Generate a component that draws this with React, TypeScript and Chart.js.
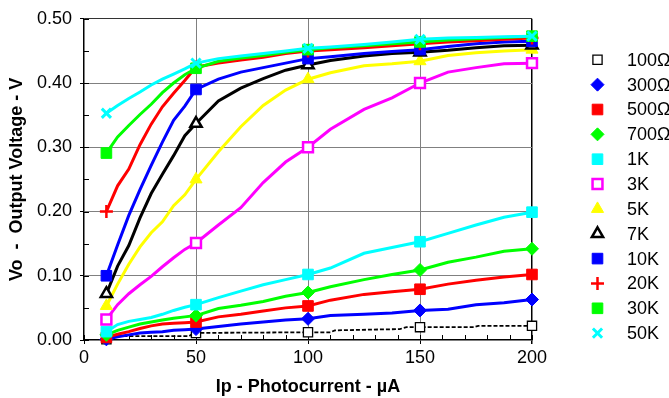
import React, { useEffect, useRef } from 'react';
import { Chart, registerables } from 'chart.js';
import { drawPoint } from 'chart.js/helpers';

Chart.register(...registerables);

// ---------- data ----------
const SERIES_NAMES = ['100Ω', '300Ω', '500Ω', '700Ω', '1K', '3K', '5K', '7K', '10K', '20K', '30K', '50K'];
const MARKER_X = [10, 50, 100, 150, 200];
const X_TICKS = [0, 50, 100, 150, 200];
const Y_TICKS = [0, 0.1, 0.2, 0.3, 0.4, 0.5];

const PHOTOCURRENT = [10, 15, 20, 25, 30, 35, 40, 45, 50, 60, 70, 80, 90, 100, 110, 125, 137.5, 150, 162.5, 175, 187.5, 200];

const X_100 = [10, 12, 47, 49, 50, 100, 110, 112, 141, 144, 150, 174, 176, 200];
const V_100 = [0.001, 0.006, 0.006, 0.011, 0.011, 0.012, 0.012, 0.015, 0.017, 0.020, 0.020, 0.020, 0.022, 0.022];

const V_300 = [0.001, 0.005, 0.008, 0.011, 0.012, 0.013, 0.015, 0.016, 0.017, 0.021, 0.025, 0.028, 0.031, 0.033, 0.038, 0.040, 0.042, 0.046, 0.048, 0.055, 0.058, 0.063];
const V_500 = [0.004, 0.009, 0.013, 0.018, 0.022, 0.025, 0.026, 0.027, 0.028, 0.036, 0.040, 0.045, 0.050, 0.053, 0.062, 0.071, 0.075, 0.079, 0.087, 0.093, 0.098, 0.102];
const V_700 = [0.008, 0.015, 0.020, 0.025, 0.028, 0.031, 0.034, 0.036, 0.038, 0.049, 0.054, 0.060, 0.068, 0.074, 0.083, 0.094, 0.102, 0.109, 0.121, 0.129, 0.138, 0.142];
const V_1K = [0.013, 0.024, 0.029, 0.032, 0.035, 0.040, 0.046, 0.051, 0.055, 0.066, 0.076, 0.086, 0.094, 0.102, 0.112, 0.135, 0.144, 0.153, 0.166, 0.179, 0.191, 0.199];
const V_3K = [0.032, 0.055, 0.072, 0.086, 0.099, 0.114, 0.128, 0.141, 0.151, 0.179, 0.206, 0.245, 0.277, 0.300, 0.328, 0.359, 0.377, 0.400, 0.417, 0.424, 0.430, 0.431];
const V_5K = [0.053, 0.087, 0.118, 0.145, 0.167, 0.184, 0.209, 0.226, 0.250, 0.293, 0.332, 0.365, 0.389, 0.406, 0.416, 0.427, 0.430, 0.434, 0.443, 0.447, 0.450, 0.452];
const V_7K = [0.072, 0.115, 0.147, 0.190, 0.228, 0.258, 0.287, 0.318, 0.337, 0.372, 0.392, 0.407, 0.420, 0.428, 0.435, 0.442, 0.446, 0.448, 0.451, 0.455, 0.458, 0.459];
const V_10K = [0.100, 0.148, 0.194, 0.234, 0.272, 0.308, 0.342, 0.364, 0.390, 0.406, 0.417, 0.424, 0.431, 0.438, 0.441, 0.446, 0.449, 0.452, 0.457, 0.461, 0.464, 0.465];
const V_20K = [0.200, 0.240, 0.266, 0.304, 0.336, 0.363, 0.384, 0.404, 0.425, 0.431, 0.436, 0.440, 0.446, 0.450, 0.452, 0.455, 0.458, 0.461, 0.464, 0.466, 0.468, 0.470];
const V_30K = [0.291, 0.316, 0.334, 0.351, 0.367, 0.385, 0.400, 0.413, 0.423, 0.434, 0.439, 0.443, 0.448, 0.452, 0.455, 0.458, 0.461, 0.464, 0.467, 0.469, 0.471, 0.473];
const V_50K = [0.353, 0.365, 0.376, 0.386, 0.397, 0.406, 0.414, 0.422, 0.431, 0.438, 0.442, 0.446, 0.450, 0.454, 0.456, 0.460, 0.464, 0.468, 0.470, 0.471, 0.472, 0.473];

const SERIES_X = [X_100, PHOTOCURRENT, PHOTOCURRENT, PHOTOCURRENT, PHOTOCURRENT, PHOTOCURRENT, PHOTOCURRENT, PHOTOCURRENT, PHOTOCURRENT, PHOTOCURRENT, PHOTOCURRENT, PHOTOCURRENT];
const SERIES_Y = [V_100, V_300, V_500, V_700, V_1K, V_3K, V_5K, V_7K, V_10K, V_20K, V_30K, V_50K];

// ---------- styles ----------
type Sty = { color: string; point: string; fill: string; pbw: number; r: number; lw: number; dash?: number[] };
const STYLES: Sty[] = [
  { color: '#000000', point: 'rect', fill: '#ffffff', pbw: 1.3, r: 6.5, lw: 1.8, dash: [4, 2] },
  { color: '#0000ff', point: 'rectRot', fill: '#0000ff', pbw: 1, r: 6.5, lw: 3 },
  { color: '#ff0000', point: 'rect', fill: '#ff0000', pbw: 1, r: 7.5, lw: 3 },
  { color: '#00ff00', point: 'rectRot', fill: '#00ff00', pbw: 1, r: 6.5, lw: 3 },
  { color: '#00ffff', point: 'rect', fill: '#00ffff', pbw: 1, r: 7.5, lw: 3 },
  { color: '#ff00ff', point: 'rect', fill: '#ffffff', pbw: 2.5, r: 7, lw: 3 },
  { color: '#ffff00', point: 'triangle', fill: '#ffff00', pbw: 1, r: 7, lw: 3 },
  { color: '#000000', point: 'triangle', fill: '#ffffff', pbw: 2.5, r: 6.5, lw: 3 },
  { color: '#0000ff', point: 'rect', fill: '#0000ff', pbw: 1, r: 7.5, lw: 3 },
  { color: '#ff0000', point: 'cross', fill: '#ff0000', pbw: 2.5, r: 6.5, lw: 3 },
  { color: '#00ff00', point: 'rect', fill: '#00ff00', pbw: 1, r: 7.5, lw: 3 },
  { color: '#00ffff', point: 'crossRot', fill: '#00ffff', pbw: 3, r: 6.5, lw: 3 },
];

const FONT = "'Liberation Sans', Arial, sans-serif";
const FONT_SIZE = 18;

const isMarker = (x: number) => MARKER_X.includes(x);
const near = (a: number, b: number) => Math.abs(a - b) < 1e-6;

const decorPlugin = {
  id: 'decor',
  beforeDatasetsDraw(chart: any) {
    const { ctx, chartArea, scales } = chart;
    const x = scales.x;
    const y = scales.y;
    ctx.save();
    ctx.strokeStyle = '#000';
    ctx.lineWidth = 1;
    ctx.beginPath();
    for (let k = 0; k <= 20; k++) {
      const px = Math.round(x.getPixelForValue(k * 10)) + 0.5;
      ctx.moveTo(px, chartArea.bottom);
      ctx.lineTo(px, chartArea.bottom - 5);
    }
    for (let k = 0; k <= 10; k++) {
      const py = Math.round(y.getPixelForValue(k * 0.05)) + 0.5;
      ctx.moveTo(chartArea.left, py);
      ctx.lineTo(chartArea.left + 5, py);
    }
    ctx.stroke();
    ctx.restore();
  },
  afterDraw(chart: any) {
    const { ctx, chartArea } = chart;
    const markerX = chartArea.right + 65.5;
    const textX = chartArea.right + 95;
    const y0 = chartArea.top + 41;
    const step = 24.85;
    ctx.save();
    ctx.font = `${FONT_SIZE}px ${FONT}`;
    ctx.textBaseline = 'middle';
    ctx.textAlign = 'left';
    SERIES_NAMES.forEach((name, i) => {
      const s = STYLES[i];
      const yy = y0 + i * step;
      ctx.fillStyle = s.fill;
      ctx.strokeStyle = s.color;
      ctx.lineWidth = s.pbw;
      drawPoint(ctx, { pointStyle: s.point as any, radius: s.r, borderWidth: s.pbw, rotation: 0 }, markerX, yy);
      ctx.fillStyle = '#000';
      ctx.fillText(name, textX, yy + 1);
    });
    ctx.restore();
  },
};

export default function App() {
  const ref = useRef<HTMLCanvasElement>(null);
  useEffect(() => {
    if (!ref.current) return;
    const datasets = SERIES_NAMES.map((name, i) => {
      const s = STYLES[i];
      const xs = SERIES_X[i];
      const ys = SERIES_Y[i];
      return {
        label: name,
        data: xs.map((x, j) => ({ x, y: ys[j] })),
        borderColor: s.color,
        backgroundColor: s.fill,
        borderWidth: s.lw,
        borderDash: s.dash || [],
        pointStyle: s.point,
        pointBackgroundColor: s.fill,
        pointBorderColor: s.color,
        pointBorderWidth: s.pbw,
        pointRadius: (c: any) => (c.raw && isMarker(c.raw.x) ? s.r : 0),
        pointHoverRadius: (c: any) => (c.raw && isMarker(c.raw.x) ? s.r : 0),
        tension: 0,
        fill: false,
        clip: false as any,
        order: SERIES_NAMES.length - 1 - i,
      };
    });
    const chart = new Chart(ref.current, {
      type: 'line',
      data: { datasets: datasets as any },
      options: {
        animation: false,
        responsive: false,
        maintainAspectRatio: false,
        layout: { padding: { top: 16, right: 137, left: 0, bottom: 0 } },
        plugins: { legend: { display: false }, tooltip: { enabled: false } },
        scales: {
          x: {
            type: 'linear',
            min: 0,
            max: 200,
            afterFit: (s: any) => { s.height = 58; },
            afterBuildTicks: (s: any) => { s.ticks = X_TICKS.map((v) => ({ value: v })); },
            ticks: { color: '#000', font: { family: FONT, size: FONT_SIZE }, padding: 3, maxRotation: 0 },
            grid: {
              color: (c: any) => (near(c.tick.value, 200) ? '#000' : near(c.tick.value, 0) ? 'rgba(0,0,0,0)' : '#808080'),
              lineWidth: (c: any) => (near(c.tick.value, 200) ? 1.5 : 1),
              tickColor: '#000',
              tickLength: 4,
            },
            border: { display: true, color: '#000', width: 1.5 },
            title: {
              display: true,
              text: 'Ip - Photocurrent - µA',
              color: '#000',
              font: { family: FONT, size: FONT_SIZE, weight: 'bold' },
              padding: { top: 0, bottom: 0.5 },
            },
          },
          y: {
            type: 'linear',
            min: 0,
            max: 0.5,
            afterFit: (s: any) => { s.width = 84; },
            afterBuildTicks: (s: any) => { s.ticks = Y_TICKS.map((v) => ({ value: v })); },
            ticks: {
              color: '#000',
              font: { family: FONT, size: FONT_SIZE },
              padding: 8,
              callback: (v: any) => Number(v).toFixed(2),
            },
            grid: {
              color: (c: any) => (near(c.tick.value, 0.5) ? '#333' : near(c.tick.value, 0) ? 'rgba(0,0,0,0)' : '#808080'),
              lineWidth: 1,
              tickColor: '#000',
              tickLength: 4,
            },
            border: { display: true, color: '#000', width: 1.5 },
            title: {
              display: true,
              text: 'Vo  -  Output Voltage - V',
              color: '#000',
              font: { family: FONT, size: FONT_SIZE, weight: 'bold' },
              padding: { top: 6, bottom: 0 },
            },
          },
        },
      },
      plugins: [decorPlugin],
    });
    return () => chart.destroy();
  }, []);
  return (
    <div style={{ position: 'absolute', left: 0, top: 0, width: 669, height: 398, background: '#fff' }}>
      <canvas ref={ref} width={669} height={398} />
    </div>
  );
}
